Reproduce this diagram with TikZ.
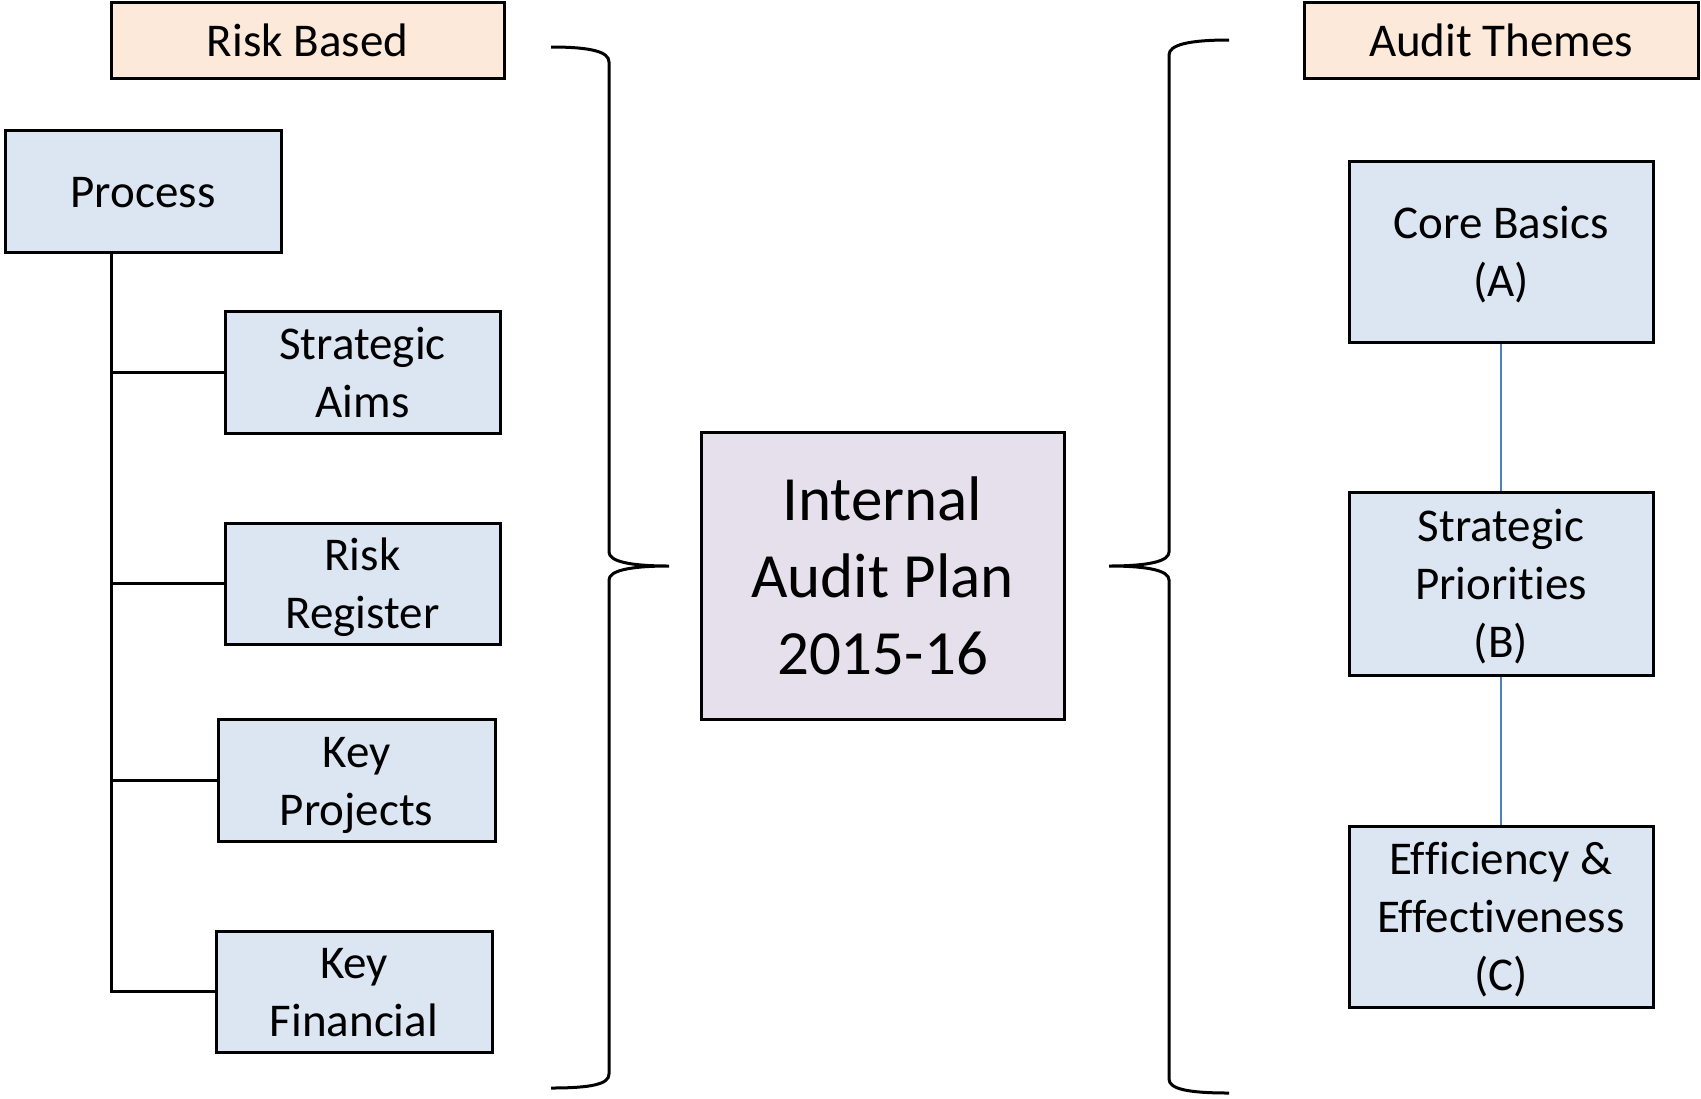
\documentclass[tikz,border=0pt]{standalone}
\usepackage{fontspec}
\setmainfont{Carlito}[RawFeature={-liga;-clig;-calt;-dlig}]
\definecolor{boxblue}{HTML}{DCE6F2}
\definecolor{peach}{HTML}{FDE9D9}
\definecolor{lav}{HTML}{E5E0EC}
\definecolor{linkblue}{HTML}{4F81BD}
\newcommand\lnstrut{\rule[-6.3pt]{0pt}{28.7pt}}
\newcommand\bigstrut{\rule[-8.5pt]{0pt}{38.5pt}}
\newcommand\nolig{\kern0pt }
\begin{document}
\begin{tikzpicture}[x=0.5pt,y=-0.5pt,
  base/.style 2 args={draw, line width=1.5pt, align=center, inner sep=0pt,
    minimum width=#1*0.5pt, minimum height=#2*0.5pt,
    font=\fontsize{23.5}{29}\selectfont},
  bx/.style 2 args={base={#1}{#2}, fill=boxblue},
  hdr/.style 2 args={base={#1}{#2}, fill=peach},
  mainbox/.style 2 args={base={#1}{#2}, fill=lav, font=\fontsize{31.5}{38.5}\selectfont},
  tree/.style={line width=1.5pt},
  link/.style={line width=1.3pt, draw=linkblue},
  brace/.style={line width=1.5pt}]
\useasboundingbox (0,0) rectangle (1701,1098);

% left column
\node[hdr={393}{76}] (rb) at (307.5,40) {\lnstrut Risk Based};
\node[bx={276}{122}] (proc) at (143,191) {\lnstrut Process};
\node[bx={275}{122}] (sa) at (362.5,372) {\lnstrut Strategic\\\lnstrut Aims};
\node[bx={275}{121}] (rr) at (362.5,583.5) {\lnstrut Risk\\\lnstrut Register};
\node[bx={277}{122}] (kp) at (356.5,780) {\lnstrut Key\\\lnstrut Projects};
\node[bx={276}{121}] (kf) at (354,991.5) {\lnstrut Key\\\lnstrut Financial};

\coordinate (trunk) at (111,252);
\draw[tree] (trunk) |- (kf.west);
\draw[tree] (sa.west -| trunk) -- (sa.west);
\draw[tree] (rr.west -| trunk) -- (rr.west);
\draw[tree] (kp.west -| trunk) -- (kp.west);

% center
\node[mainbox={363}{287}] (plan) at (882.5,575.5) {\bigstrut Internal\\\bigstrut Audit Plan\\\bigstrut 2015-16};

% right column
\node[hdr={394}{76}] (at) at (1501,40) {\lnstrut Audit Themes};
\node[bx={304}{181}] (cb) at (1501,251.5) {\lnstrut Core Basics\\\lnstrut (A)};
\node[bx={304}{183}] (sp) at (1501,583.5) {\lnstrut Strategic\\\lnstrut Priorit\nolig ies\\\lnstrut (B)};
\node[bx={304}{181}] (ee) at (1501,916.5) {\lnstrut Ef\nolig f\nolig iciency \&\\\lnstrut Effect\nolig iveness\\\lnstrut (C)};
\draw[link] (cb) -- (sp);
\draw[link] (sp) -- (ee);

% left brace
\coordinate (lbtip) at (669,566);
\draw[brace] (551,47) .. controls (592,47) and (609,52) .. (609,62)
  -- (609,552) .. controls (609,561) and (628,566) .. (lbtip)
  .. controls (628,566) and (609,571) .. (609,580)
  -- (609,1074) .. controls (609,1084) and (592,1088) .. (551,1088);

% right brace
\coordinate (rbtip) at (1109,566);
\draw[brace] (1229,40) .. controls (1188,40) and (1169,45) .. (1169,55)
  -- (1169,552) .. controls (1169,561) and (1150,566) .. (rbtip)
  .. controls (1150,566) and (1169,571) .. (1169,580)
  -- (1169,1079) .. controls (1169,1089) and (1188,1093) .. (1229,1093);
\end{tikzpicture}
\end{document}
